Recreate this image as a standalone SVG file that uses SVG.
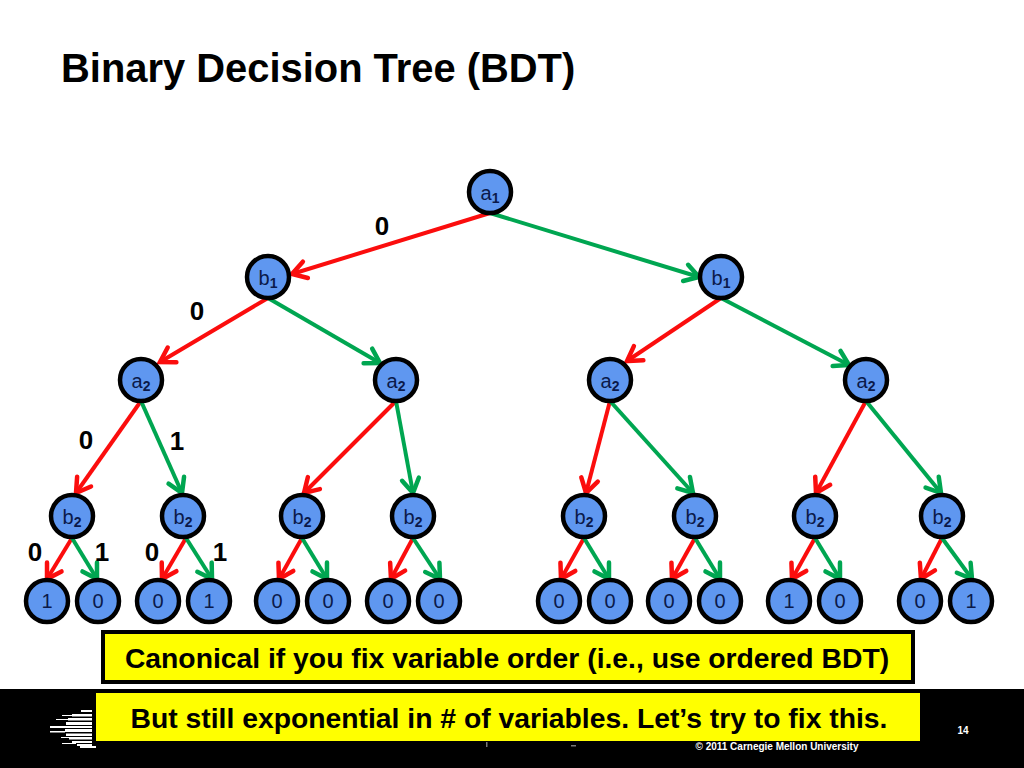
<svg xmlns="http://www.w3.org/2000/svg" width="1024" height="768" viewBox="0 0 1024 768">
<style>
text{font-family:"Liberation Sans",Arial,sans-serif}
.n circle{fill:#5f97f0;stroke:#000;stroke-width:4.5}
.n text{font-size:20px;fill:#0b1a4a;text-anchor:middle}
.n tspan.s{font-size:14px;font-weight:bold}
.r{stroke:#fb0d0d;stroke-width:4;fill:none;marker-end:url(#hr)}
.g{stroke:#00a651;stroke-width:4;fill:none;marker-end:url(#hg)}
.l{font-size:26px;font-weight:bold;fill:#000;text-anchor:middle}
.b{fill:#ff0;stroke:#000;stroke-width:4}
.t{font-size:28.3px;font-weight:bold;text-anchor:middle;fill:#000}
</style>
<defs>
<marker id="hr" markerUnits="userSpaceOnUse" markerWidth="24" markerHeight="24" refX="18" refY="12" orient="auto"><path d="M4 3.5L18 12L4 20.5" fill="none" stroke="#fb0d0d" stroke-width="4.5" stroke-linecap="round"/></marker>
<marker id="hg" markerUnits="userSpaceOnUse" markerWidth="24" markerHeight="24" refX="18" refY="12" orient="auto"><path d="M4 3.5L18 12L4 20.5" fill="none" stroke="#00a651" stroke-width="4.5" stroke-linecap="round"/></marker>
</defs>
<rect width="1024" height="768" fill="#fff"/>
<text x="61" y="82" font-size="39.9" font-weight="bold" fill="#000">Binary Decision Tree (BDT)</text>
<g id="footer">
<rect x="0" y="689" width="1024" height="79" fill="#000"/>
<g fill="#fff"><rect x="81" y="710" width="11" height="2"/><rect x="72" y="714" width="20" height="2.5"/><rect x="62" y="715" width="12" height="1"/><rect x="68" y="718" width="24" height="2.5"/><rect x="56" y="719" width="12" height="1"/><rect x="66" y="722" width="26" height="3"/><rect x="50" y="726" width="42" height="2"/><rect x="65" y="729" width="27" height="3"/><rect x="50" y="731" width="15" height="1.5"/><rect x="66" y="733.5" width="26" height="2.5"/><rect x="69" y="737" width="23" height="2.5"/><rect x="61" y="737" width="10" height="1"/><rect x="72" y="741" width="20" height="2"/><rect x="62" y="743" width="14" height="1"/><rect x="77" y="744" width="15" height="2"/><rect x="80" y="746" width="16" height="2"/></g>
<text x="963" y="734" font-size="10" font-weight="bold" fill="#fff" text-anchor="middle">14</text>
<text x="777" y="750" font-size="10" font-weight="bold" fill="#fff" text-anchor="middle">© 2011 Carnegie Mellon University</text>
<rect x="486" y="742" width="1.5" height="5" fill="#777"/><rect x="571" y="745" width="5" height="1.5" fill="#777"/>
</g>
<g id="connectors">
<path class="r" d="M490 213L292 274"/><path class="g" d="M490 213L699 277"/>
<path class="r" d="M268 298L160 362"/><path class="g" d="M268 298L380 363"/>
<path class="r" d="M721 298L627 361"/><path class="g" d="M721 298L849 365"/>
<path class="r" d="M141 401L76 493"/><path class="g" d="M141 401L182 493"/>
<path class="r" d="M396 401L304 493"/><path class="g" d="M396 401L413 493"/>
<path class="r" d="M610 401L586 493"/><path class="g" d="M610 401L693 493"/>
<path class="r" d="M866 401L816 493"/><path class="g" d="M866 401L941 493"/>
<path class="r" d="M72 538L47 579"/><path class="g" d="M72 538L97 579"/>
<path class="r" d="M186 538L162 579"/><path class="g" d="M186 538L212 579"/>
<path class="r" d="M302 538L279 579"/><path class="g" d="M302 538L327 579"/>
<path class="r" d="M413 538L391 579"/><path class="g" d="M413 538L440 579"/>
<path class="r" d="M584 538L561 579"/><path class="g" d="M584 538L609 579"/>
<path class="r" d="M695 538L672 579"/><path class="g" d="M695 538L720 579"/>
<path class="r" d="M815 538L792 579"/><path class="g" d="M815 538L840 579"/>
<path class="r" d="M942 538L921 579"/><path class="g" d="M942 538L972 579"/>
</g>
<g id="n-a1" class="n"><circle cx="490" cy="192" r="21"/><text x="490" y="200">a<tspan class="s" dy="3">1</tspan></text></g>
<g id="n-b1l" class="n"><circle cx="268" cy="277" r="21"/><text x="268" y="285">b<tspan class="s" dy="3">1</tspan></text></g>
<g id="n-b1r" class="n"><circle cx="721" cy="277" r="21"/><text x="721" y="285">b<tspan class="s" dy="3">1</tspan></text></g>
<g id="n-a2a" class="n"><circle cx="141" cy="380" r="21"/><text x="141" y="388">a<tspan class="s" dy="3">2</tspan></text></g>
<g id="n-a2b" class="n"><circle cx="396" cy="380" r="21"/><text x="396" y="388">a<tspan class="s" dy="3">2</tspan></text></g>
<g id="n-a2c" class="n"><circle cx="610" cy="380" r="21"/><text x="610" y="388">a<tspan class="s" dy="3">2</tspan></text></g>
<g id="n-a2d" class="n"><circle cx="866" cy="380" r="21"/><text x="866" y="388">a<tspan class="s" dy="3">2</tspan></text></g>
<g id="n-b2a" class="n"><circle cx="72" cy="516" r="21"/><text x="72" y="524">b<tspan class="s" dy="3">2</tspan></text></g>
<g id="n-b2b" class="n"><circle cx="183" cy="516" r="21"/><text x="183" y="524">b<tspan class="s" dy="3">2</tspan></text></g>
<g id="n-b2c" class="n"><circle cx="302" cy="516" r="21"/><text x="302" y="524">b<tspan class="s" dy="3">2</tspan></text></g>
<g id="n-b2d" class="n"><circle cx="413" cy="516" r="21"/><text x="413" y="524">b<tspan class="s" dy="3">2</tspan></text></g>
<g id="n-b2e" class="n"><circle cx="584" cy="516" r="21"/><text x="584" y="524">b<tspan class="s" dy="3">2</tspan></text></g>
<g id="n-b2f" class="n"><circle cx="695" cy="516" r="21"/><text x="695" y="524">b<tspan class="s" dy="3">2</tspan></text></g>
<g id="n-b2g" class="n"><circle cx="815" cy="516" r="21"/><text x="815" y="524">b<tspan class="s" dy="3">2</tspan></text></g>
<g id="n-b2h" class="n"><circle cx="942" cy="516" r="21"/><text x="942" y="524">b<tspan class="s" dy="3">2</tspan></text></g>
<g id="leaf1" class="n"><circle cx="47" cy="601" r="21"/><text x="47" y="608">1</text></g>
<g id="leaf2" class="n"><circle cx="98" cy="601" r="21"/><text x="98" y="608">0</text></g>
<g id="leaf3" class="n"><circle cx="158" cy="601" r="21"/><text x="158" y="608">0</text></g>
<g id="leaf4" class="n"><circle cx="209" cy="601" r="21"/><text x="209" y="608">1</text></g>
<g id="leaf5" class="n"><circle cx="277" cy="601" r="21"/><text x="277" y="608">0</text></g>
<g id="leaf6" class="n"><circle cx="328" cy="601" r="21"/><text x="328" y="608">0</text></g>
<g id="leaf7" class="n"><circle cx="388" cy="601" r="21"/><text x="388" y="608">0</text></g>
<g id="leaf8" class="n"><circle cx="439" cy="601" r="21"/><text x="439" y="608">0</text></g>
<g id="leaf9" class="n"><circle cx="559" cy="601" r="21"/><text x="559" y="608">0</text></g>
<g id="leaf10" class="n"><circle cx="610" cy="601" r="21"/><text x="610" y="608">0</text></g>
<g id="leaf11" class="n"><circle cx="669" cy="601" r="21"/><text x="669" y="608">0</text></g>
<g id="leaf12" class="n"><circle cx="720" cy="601" r="21"/><text x="720" y="608">0</text></g>
<g id="leaf13" class="n"><circle cx="789" cy="601" r="21"/><text x="789" y="608">1</text></g>
<g id="leaf14" class="n"><circle cx="840" cy="601" r="21"/><text x="840" y="608">0</text></g>
<g id="leaf15" class="n"><circle cx="920" cy="601" r="21"/><text x="920" y="608">0</text></g>
<g id="leaf16" class="n"><circle cx="971" cy="601" r="21"/><text x="971" y="608">1</text></g>
<g id="labels">
<text class="l" x="382" y="235">0</text><text class="l" x="197" y="320">0</text><text class="l" x="86" y="449">0</text><text class="l" x="177" y="450">1</text>
<text class="l" x="35" y="561">0</text><text class="l" x="102" y="561">1</text><text class="l" x="152" y="561">0</text><text class="l" x="220" y="561">1</text>
</g>
<g id="box1"><rect class="b" x="103" y="632" width="810" height="50"/><text class="t" x="507" y="668">Canonical if you fix variable order (i.e., use ordered BDT)</text></g>
<g id="box2"><rect x="96" y="693" width="824" height="48" fill="#ff0"/><text class="t" x="509" y="728">But still exponential in # of variables. Let’s try to fix this.</text></g>
</svg>
